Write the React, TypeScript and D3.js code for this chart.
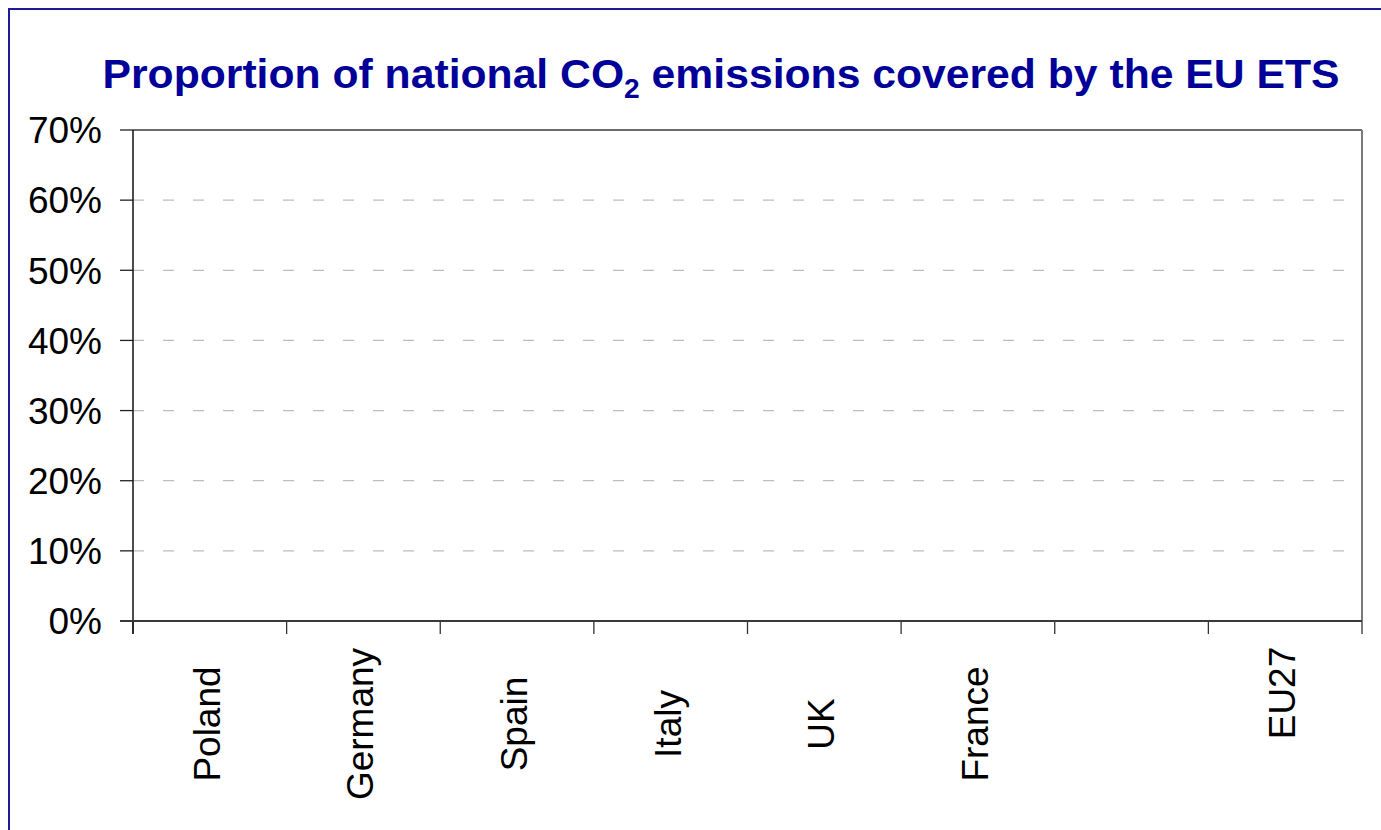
import React, { useEffect, useRef } from "react";
import * as d3 from "d3";

const categories: string[] = ["Poland", "Germany", "Spain", "Italy", "UK", "France", "", "EU27"];
const yTicks: number[] = [0, 0.1, 0.2, 0.3, 0.4, 0.5, 0.6, 0.7];
const titleMain = "Proportion of national CO";
const titleSub = "2";
const titleRest = " emissions covered by the EU ETS";

export default function App() {
  const ref = useRef<SVGSVGElement | null>(null);

  useEffect(() => {
    const svg = d3.select(ref.current);
    svg.selectAll("*").remove();
    const W = 1381, H = 830;
    const left = 133, right = 1362, top = 130, bottom = 621;

    // outer frame
    svg.append("rect")
      .attr("x", 9).attr("y", 9).attr("width", W + 20).attr("height", H + 20)
      .attr("fill", "white").attr("stroke", "#1c1c96").attr("stroke-width", 2);

    // title
    const t = svg.append("text")
      .attr("x", 721).attr("y", 88)
      .attr("text-anchor", "middle")
      .attr("font-family", "Liberation Sans, Arial, sans-serif")
      .attr("font-weight", "bold")
      .attr("font-size", 41)
      .attr("fill", "#000099")
      .attr("textLength", 1237)
      .attr("lengthAdjust", "spacingAndGlyphs");
    t.append("tspan").text(titleMain);
    t.append("tspan").attr("font-size", 27).attr("dy", 10).text(titleSub);
    t.append("tspan").attr("dy", -10).text(titleRest);

    const x = d3.scaleBand<string>().domain(categories.map((c, i) => String(i))).range([left, right]).padding(0);
    const y = d3.scaleLinear().domain([0, 0.7]).range([bottom, top]);

    // gridlines
    svg.append("g").selectAll("line")
      .data(yTicks.filter((v) => v > 0 && v < 0.7))
      .join("line")
      .attr("x1", left).attr("x2", right)
      .attr("y1", (d) => y(d)).attr("y2", (d) => y(d))
      .attr("stroke", "#bdbdbd").attr("stroke-width", 1.3)
      .attr("stroke-dasharray", "11,19");

    // plot border top and right
    svg.append("line").attr("x1", left).attr("x2", right).attr("y1", y(0.7)).attr("y2", y(0.7))
      .attr("stroke", "#3a3a3a").attr("stroke-width", 1.3);

    // y ticks
    svg.append("g").selectAll("line")
      .data(yTicks)
      .join("line")
      .attr("x1", 120).attr("x2", left)
      .attr("y1", (d) => y(d)).attr("y2", (d) => y(d))
      .attr("stroke", "#222").attr("stroke-width", 1.3);

    svg.append("g").selectAll("text")
      .data(yTicks)
      .join("text")
      .attr("x", 102).attr("y", (d) => y(d))
      .attr("dy", "0.36em")
      .attr("text-anchor", "end")
      .attr("font-family", "Liberation Sans, Arial, sans-serif")
      .attr("font-size", 37)
      .attr("fill", "#000")
      .text((d) => d3.format(".0%")(d));

    // x ticks at band boundaries
    const bounds = categories.map((c, i) => x(String(i)) as number).concat([right]);
    svg.append("g").selectAll("line")
      .data(bounds)
      .join("line")
      .attr("x1", (d) => d).attr("x2", (d) => d)
      .attr("y1", bottom).attr("y2", 634)
      .attr("stroke", (d, i) => (i === bounds.length - 1 ? "#7a7a7a" : "#333"))
      .attr("stroke-width", 1.3);

    // right border
    svg.append("line").attr("x1", right).attr("x2", right).attr("y1", top).attr("y2", 634)
      .attr("stroke", "#7a7a7a").attr("stroke-width", 2);

    // y axis
    svg.append("line").attr("x1", left).attr("x2", left).attr("y1", top).attr("y2", 634)
      .attr("stroke", "#111").attr("stroke-width", 1.5);

    // x axis
    svg.append("line").attr("x1", 120).attr("x2", right).attr("y1", bottom).attr("y2", bottom)
      .attr("stroke", "#3a3a3a").attr("stroke-width", 2);

    // category labels
    svg.append("g").selectAll("text")
      .data(categories.map((c, i) => ({ c, i })))
      .join("text")
      .attr("transform", (d) => {
        const cx = (x(String(d.i)) as number) + x.bandwidth() / 2;
        return `translate(${cx + 10},${d.c === "EU27" ? 693 : 724}) rotate(-90)`;
      })
      .attr("text-anchor", "middle")
      .attr("font-family", "Liberation Sans, Arial, sans-serif")
      .attr("font-size", 37)
      .attr("fill", "#000")
      .text((d) => d.c);
  }, []);

  return (
    <svg
      ref={ref}
      width={1381}
      height={830}
      style={{ position: "fixed", left: 0, top: 0, display: "block" }}
    />
  );
}
